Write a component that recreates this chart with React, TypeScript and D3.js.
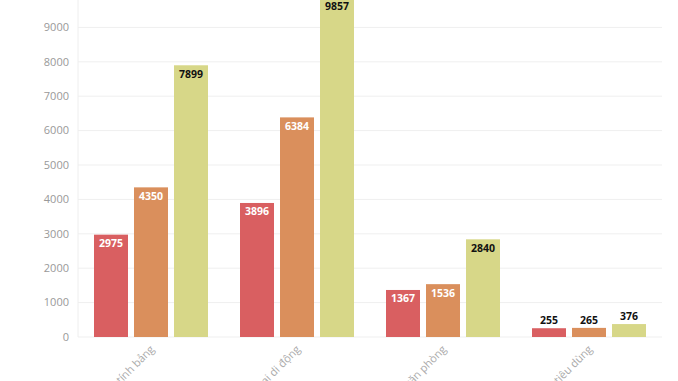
import React from "react";
import * as d3 from "d3";

const categories = ["Máy tính bảng", "Điện thoại di động", "Thiết bị văn phòng", "Hàng tiêu dùng"];
const seriesNames = ["2019", "2020", "2021"];
const series1 = [2975, 3896, 1367, 255];
const series2 = [4350, 6384, 1536, 265];
const series3 = [7899, 9857, 2840, 376];
const yTicks = [0, 1000, 2000, 3000, 4000, 5000, 6000, 7000, 8000, 9000];
const colors = ["#d95f61", "#da8f5c", "#d7d788"];
const labelColors = ["#ffffff", "#ffffff", "#111111"];

const W = 678, H = 381;
const left = 78, right = 662, bottom = 337, top = -7;

export default function App() {
  const allSeries = [series1, series2, series3];
  const x = d3.scaleBand<string>().domain(categories).range([left, right]);
  const y = d3.scaleLinear().domain([0, 10000]).range([bottom, top]);
  const barW = 34, gap = 6;
  const groupW = barW * 3 + gap * 2;
  const font = "'Open Sans', 'DejaVu Sans', sans-serif";
  return (
    <svg width={W} height={H} style={{ position: "absolute", left: 0, top: 0, background: "#fff" }} fontFamily={font}>
      {yTicks.map((t) => (
        <g key={t}>
          <line x1={left} x2={right} y1={y(t)} y2={y(t)} stroke="#efefef" strokeWidth={1} />
          <text x={69} y={y(t)} dy="0.35em" textAnchor="end" fontSize={11} fill="#999">{t}</text>
        </g>
      ))}
      <line x1={left} x2={left} y1={0} y2={bottom} stroke="#eeeeee" strokeWidth={1} />
      {categories.map((c, ci) => {
        const cx = (x(c) as number) + x.bandwidth() / 2;
        const x0 = cx - groupW / 2;
        return (
          <g key={c}>
            {allSeries.map((s, si) => {
              const v = s[ci];
              const bx = x0 + si * (barW + gap);
              const by = y(v);
              const h = bottom - by;
              const inside = h > 22;
              return (
                <g key={si}>
                  <rect x={bx} y={by} width={barW} height={h} fill={colors[si]} />
                  <text x={bx + barW / 2} y={inside ? by + 12.5 : by - 4} textAnchor="middle" fontSize={10.5} fontWeight="bold"
                    fill={inside ? labelColors[si] : "#111"}>{v}</text>
                </g>
              );
            })}
            <text transform={`translate(${cx + 4},${350}) rotate(-45)`} textAnchor="end" fontSize={11} fill="#aaa">{c}</text>
          </g>
        );
      })}
    </svg>
  );
}
